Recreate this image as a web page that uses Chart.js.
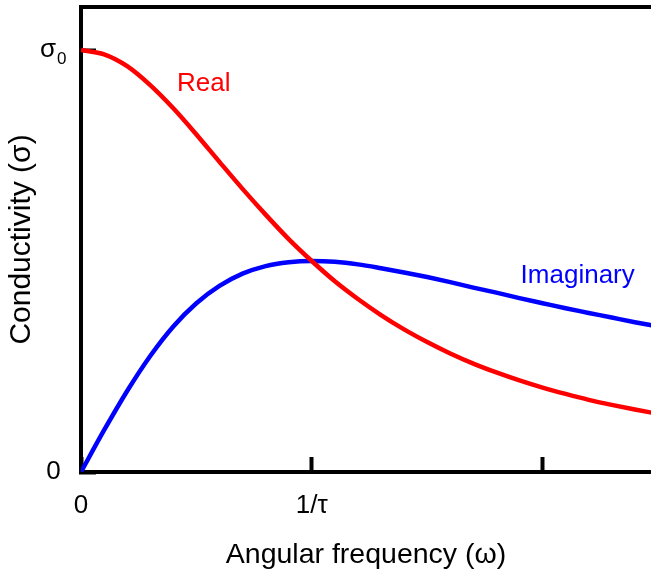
<!DOCTYPE html>
<html>
<head>
<meta charset="utf-8">
<script src="https://cdn.jsdelivr.net/npm/chart.js@4.4.0/dist/chart.umd.min.js"></script>
<style>
  html, body { margin: 0; padding: 0; background: #ffffff; }
  #wrap { width: 651px; height: 572px; }
</style>
</head>
<body>
<div id="wrap"><canvas id="c" width="651" height="572"></canvas></div>
<script>
// Angular frequency, in units of 1/tau
const omega = [0, 0.1, 0.2, 0.3, 0.4, 0.5, 0.6, 0.7, 0.8, 0.9, 1.0, 1.1, 1.2,
  1.3, 1.4, 1.5, 1.6, 1.7, 1.8, 1.9, 2.0, 2.1, 2.2, 2.3, 2.4, 2.5];
// Conductivity, in units of sigma0
const realPart = [1.000, 0.990, 0.962, 0.917, 0.862, 0.800, 0.735, 0.671, 0.610,
  0.552, 0.500, 0.452, 0.410, 0.372, 0.338, 0.308, 0.281, 0.257, 0.236, 0.217,
  0.200, 0.185, 0.171, 0.159, 0.148, 0.138];
const imagPart = [0.000, 0.099, 0.192, 0.275, 0.345, 0.400, 0.441, 0.470, 0.488,
  0.497, 0.500, 0.498, 0.492, 0.483, 0.473, 0.462, 0.450, 0.437, 0.425, 0.412,
  0.400, 0.388, 0.377, 0.366, 0.355, 0.345];

const xTickValues = [0, 1, 2];
const xTickLabels = ['0', '1/\u03C4', ''];
const yTickValues = [0, 1];
const yTickLabels = ['0 ', '\u03C3'];
const yTickSubscripts = ['', '0'];

const seriesNames = ['Real', 'Imaginary'];
const seriesColors = ['#ff0000', '#0000ff'];
// label anchor (in data units) for the in-plot series names
const seriesLabelAt = [[0.416, 0.903], [1.905, 0.448]];

const xTitle = 'Angular frequency (\u03C9)';
const yTitle = 'Conductivity (\u03C3)';

const FONT = '"Liberation Sans", Arial, sans-serif';

const toPoints = (ys) => omega.map((x, i) => ({ x: x, y: ys[i] }));

const framePlugin = {
  id: 'frame',
  afterDraw(chart) {
    const ctx = chart.ctx;
    const a = chart.chartArea;
    const xs = chart.scales.x, ys = chart.scales.y;
    ctx.save();
    ctx.strokeStyle = '#000000';
    ctx.lineWidth = 4;
    ctx.beginPath();
    ctx.moveTo(a.left - 2, a.top);
    ctx.lineTo(a.right, a.top);
    ctx.stroke();
    // y tick labels that carry a subscript
    ctx.fillStyle = '#000';
    ctx.textBaseline = 'alphabetic';
    yTickValues.forEach((v, i) => {
      if (!yTickSubscripts[i]) return;
      const py = ys.getPixelForValue(v);
      ctx.font = '26px ' + FONT;
      ctx.textAlign = 'right';
      ctx.fillText(yTickLabels[i], a.left - 25, py + 7);
      ctx.font = '17px ' + FONT;
      ctx.textAlign = 'left';
      ctx.fillText(yTickSubscripts[i], a.left - 24, py + 14);
    });
    // series names
    ctx.font = '26px ' + FONT;
    ctx.textAlign = 'left';
    seriesNames.forEach((n, i) => {
      ctx.fillStyle = seriesColors[i];
      ctx.fillText(n, xs.getPixelForValue(seriesLabelAt[i][0]), ys.getPixelForValue(seriesLabelAt[i][1]));
    });
    ctx.restore();
  }
};

new Chart(document.getElementById('c'), {
  type: 'line',
  data: {
    datasets: [
      { label: seriesNames[0], data: toPoints(realPart), borderColor: seriesColors[0],
        borderWidth: 4.5, pointRadius: 0, cubicInterpolationMode: 'monotone', fill: false },
      { label: seriesNames[1], data: toPoints(imagPart), borderColor: seriesColors[1],
        borderWidth: 4.5, pointRadius: 0, cubicInterpolationMode: 'monotone', fill: false }
    ]
  },
  options: {
    responsive: false,
    devicePixelRatio: 1,
    animation: false,
    events: [],
    layout: { padding: { top: 7, right: 0, left: 0, bottom: 0 } },
    plugins: { legend: { display: false }, tooltip: { enabled: false } },
    scales: {
      x: {
        type: 'linear', position: 'bottom', min: 0, max: 2.47,
        afterBuildTicks: (s) => { s.ticks = xTickValues.map(v => ({ value: v })); },
        afterFit: (s) => { s.height = 100; s.paddingLeft = 0; s.paddingRight = 0; },
        ticks: {
          color: '#000', font: { family: FONT, size: 26 }, padding: 33, maxRotation: 0,
          autoSkip: false,
          callback: (v) => xTickLabels[xTickValues.indexOf(v)]
        },
        grid: { drawOnChartArea: false, drawTicks: true, tickLength: -15, tickWidth: 4, tickColor: '#000' },
        border: { display: true, color: '#000', width: 4 },
        title: { display: true, text: xTitle, color: '#000', font: { family: FONT, size: 28.5 }, padding: { top: 0, bottom: 0 } }
      },
      y: {
        type: 'linear', position: 'left', min: 0, max: 1.102,
        afterBuildTicks: (s) => { s.ticks = yTickValues.map(v => ({ value: v })); },
        afterFit: (s) => { s.width = 81; s.paddingTop = 0; s.paddingBottom = 0; },
        ticks: {
          color: (c) => (yTickSubscripts[yTickValues.indexOf(c.tick.value)] ? 'rgba(0,0,0,0)' : '#000'),
          font: { family: FONT, size: 26 }, padding: 28, autoSkip: false,
          callback: (v) => yTickLabels[yTickValues.indexOf(v)]
        },
        grid: { drawOnChartArea: false, drawTicks: true, tickLength: -15, tickWidth: 4, tickColor: '#000' },
        border: { display: true, color: '#000', width: 4 },
        title: { display: true, text: yTitle, color: '#000', font: { family: FONT, size: 30 }, padding: { top: 4, bottom: 0 } }
      }
    }
  },
  plugins: [framePlugin]
});
</script>
</body>
</html>
